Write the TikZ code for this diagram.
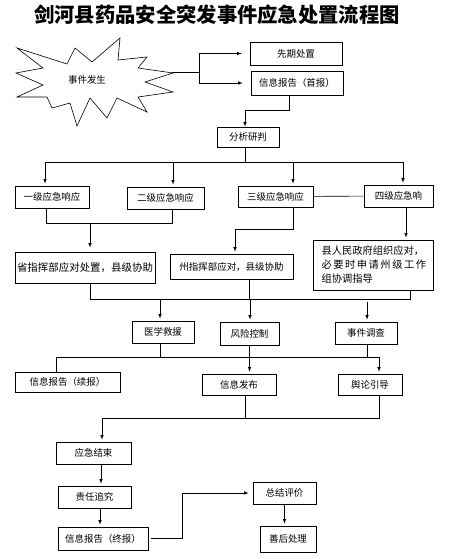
\documentclass[tikz,border=0pt]{standalone}
\usepackage{fontspec}
\setmainfont{Noto Sans CJK SC}
\usepackage{tikz}
\usetikzlibrary{arrows,positioning,calc}

\begin{document}
\begin{tikzpicture}[x=1bp,y=-1bp,
    box/.style={draw, line width=0.6pt, inner sep=0pt, font=\fontsize{9.5}{11}\selectfont},
    size/.style 2 args={minimum width=#1bp, minimum height=#2bp},
    link/.style={line width=0.6pt},
    arr/.style={->, >=latex, line width=0.6pt, shorten >=2bp}]
    \useasboundingbox (0,0) rectangle (449,559);

    \node[font=\fontsize{20.4}{24}\selectfont\bfseries] (title) at (217,15) {剑河县药品安全突发事件应急处置流程图};

    \draw[link] (17,48) -- (67,64) -- (75,48) -- (92,62) -- (120,38) -- (118,60) -- (147,57)
        -- (138,68) -- (173,73) -- (145,82) -- (173,92) -- (138,97) -- (147,112) -- (117,98)
        -- (107,118) -- (90,98) -- (77,126) -- (70,103) -- (52,108) -- (47,97) -- (17,97)
        -- (43,85) -- (16,73) -- (43,68) -- cycle;
    \node[font=\fontsize{9.5}{11}\selectfont] (event) at (87,80) {事件发生};
    \coordinate (tip) at (172,72);
    \coordinate (fork) at (199,72);

    \node[box, size={92}{23}] (xianqi) at (296,53.5) {先期处置};
    \node[box, size={92}{24}] (shoubao) at (297,83) {信息报告（首报）};
    \node[box, size={62}{20}] (fenxi) at (248,137) {分析研判};

    \node[box, size={74}{22}] (yiji) at (52,197) {一级应急响应};
    \node[box, size={77}{22}] (erji) at (165.5,198) {二级应急响应};
    \node[box, size={75}{21}] (sanji) at (275.5,196.5) {三级应急响应};
    \node[box, size={69}{22}] (siji) at (398.5,196) {四级应急响};

    \node[box, size={140}{31}, font=\fontsize{10.5}{12}\selectfont] (sheng) at (85,267.5) {省指挥部应对处置，县级协助};
    \node[box, size={123}{25}] (zhou) at (231.5,266.5) {州指挥部应对，县级协助};
    \node[box, size={120}{50}, align=left, font=\fontsize{10.3}{14}\selectfont] (xian) at (373,265)
        {县人民政府组织应对，\\ \makebox[103bp][s]{必 要 时 申 请 州 级 工 作}\\ 组协调指导};

    \node[box, size={62}{22}] (yixue) at (163,332) {医学救援};
    \node[box, size={59}{23}] (fengxian) at (249.5,333.5) {风险控制};
    \node[box, size={62}{22}] (diaocha) at (366,333) {事件调查};

    \node[box, size={105}{20}] (xubao) at (67.5,382) {信息报告（续报）};
    \node[box, size={74}{21}] (fabu) at (239,384.5) {信息发布};
    \node[box, size={64}{21}] (yulun) at (370,384.5) {舆论引导};

    \node[box, size={75}{22}] (jieshu) at (93.5,453) {应急结束};
    \node[box, size={73}{22}] (zeren) at (94.5,497) {责任追究};
    \node[box, size={90}{23}] (zhongbao) at (103,538.5) {信息报告（终报）};
    \node[box, size={63}{22}] (zongjie) at (284.5,493) {总结评价};
    \node[box, size={56}{26}] (shanhou) at (288,539) {善后处理};

    \draw[link] (tip) -- (fork);
    \draw[arr, shorten >=8bp] (fork) |- (xianqi.west);
    \draw[arr, shorten >=8bp] (fork) |- (shoubao.west);

    \coordinate (k1) at (245,110);
    \draw[arr, shorten >=0bp] ([xshift=-8bp]shoubao.south) |- (k1) -- (fenxi.north -| k1);

    \coordinate (bus) at (245,162);
    \coordinate (g1) at (45,162);
    \coordinate (g2) at (173,162);
    \coordinate (g3) at (293,162);
    \coordinate (g4) at (403,162);
    \draw[link] (fenxi.south -| bus) -- (bus);
    \draw[link] (g1) -- (g4);
    \draw[arr] (g1) -- (yiji.north -| g1);
    \draw[arr] (g2) -- (erji.north -| g2);
    \draw[arr] (g3) -- (sanji.north -| g3);
    \draw[arr] (g4) -- (siji.north -| g4);
    \draw[link] (sanji) -- (siji);

    \coordinate (m1a) at (46,223);
    \coordinate (m1b) at (172,223);
    \coordinate (m1) at (90,223);
    \draw[link] (yiji.south -| m1a) -- (m1a) -- (m1b) -- (erji.south -| m1b);
    \draw[arr, shorten >=4bp] (m1) -- (sheng.north -| m1);

    \coordinate (m2a) at (293,229);
    \coordinate (m2b) at (235,229);
    \draw[arr] (sanji.south -| m2a) -- (m2a) -- (m2b) -- (zhou.north -| m2b);

    \coordinate (m3) at (406,222);
    \draw[arr] (siji.south -| m3) -- (xian.north -| m3);

    \coordinate (n1) at (90,299);
    \coordinate (n2) at (249,299);
    \coordinate (n3) at (410,299);
    \draw[link] (sheng.south -| n1) -- (n1) -- (n3) -- (xian.south -| n3);
    \draw[link] (zhou.south -| n2) -- (n2);

    \coordinate (p1) at (160,299);
    \coordinate (p2) at (250,299);
    \coordinate (p3) at (367,302);
    \draw[arr] (p1) -- (yixue.north -| p1);
    \draw[arr] (p2) -- (fengxian.north -| p2);
    \draw[arr] (p3) -- (diaocha.north -| p3);

    \coordinate (q1) at (56,357);
    \coordinate (q2) at (160,357);
    \coordinate (q3) at (367,357);
    \coordinate (q4) at (379,357);
    \draw[link] (yixue.south -| q2) -- (q2);
    \draw[link] (diaocha.south -| q3) -- (q3);
    \draw[link] (xubao.north -| q1) -- (q1) -- (q4);
    \draw[arr] (q4) -- (yulun.north -| q4);
    \draw[arr] (fengxian.south) -- (fengxian.south |- fabu.north);

    \coordinate (s1) at (102,418);
    \coordinate (s2) at (245,418);
    \coordinate (s3) at (379,418);
    \draw[link] (fabu.south -| s2) -- (s2);
    \draw[link] (yulun.south -| s3) -- (s3) -- (s1);
    \draw[arr] (s1) -- (jieshu.north -| s1);

    \coordinate (u1) at (101,475);
    \coordinate (u2) at (100,517);
    \draw[arr] (jieshu.south -| u1) -- (zeren.north -| u1);
    \draw[arr] (zeren.south -| u2) -- (zhongbao.north -| u2);

    \coordinate (v1) at (182,538.5);
    \draw[arr, shorten >=4bp] ([xshift=3bp]zhongbao.east) -- (v1) |- (zongjie.west);
    \draw[arr] (zongjie.south) -- (zongjie.south |- shanhou.north);
\end{tikzpicture}
\end{document}
